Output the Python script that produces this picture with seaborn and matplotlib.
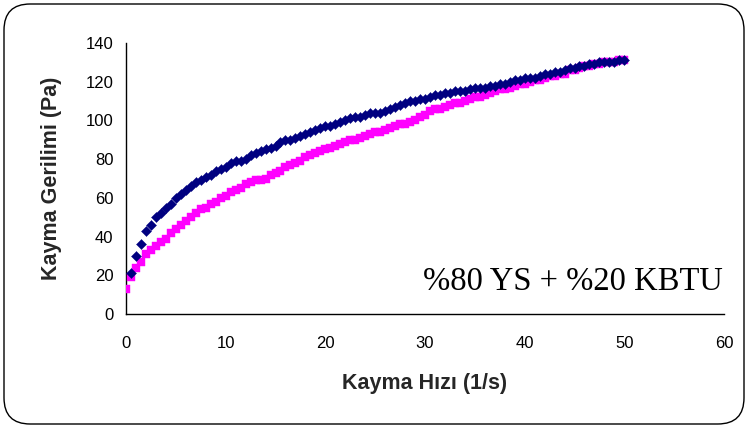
import matplotlib
matplotlib.use("Agg")
import matplotlib.pyplot as plt
import seaborn as sns
import pandas as pd
from matplotlib.patches import FancyBboxPatch

# Shear rate (1/s) and shear stress (Pa)
rate_navy = [0.5, 1.0, 1.5, 2.0, 2.5, 3.0, 3.5, 4.0, 4.5, 5.0,
             5.5, 6.0, 6.5, 7.0, 7.5, 8.0, 8.5, 9.0, 9.5, 10.0,
             10.5, 11.0, 11.5, 12.0, 12.5, 13.0, 13.5, 14.0, 14.5, 15.0,
             15.5, 16.0, 16.5, 17.0, 17.5, 18.0, 18.5, 19.0, 19.5, 20.0,
             20.5, 21.0, 21.5, 22.0, 22.5, 23.0, 23.5, 24.0, 24.5, 25.0,
             25.5, 26.0, 26.5, 27.0, 27.5, 28.0, 28.5, 29.0, 29.5, 30.0,
             30.5, 31.0, 31.5, 32.0, 32.5, 33.0, 33.5, 34.0, 34.5, 35.0,
             35.5, 36.0, 36.5, 37.0, 37.5, 38.0, 38.5, 39.0, 39.5, 40.0,
             40.5, 41.0, 41.5, 42.0, 42.5, 43.0, 43.5, 44.0, 44.5, 45.0,
             45.5, 46.0, 46.5, 47.0, 47.5, 48.0, 48.5, 49.0, 49.5, 50.0]
stress_navy = [21, 30, 36, 43, 46, 50, 52, 55, 57, 60,
               62, 64, 66, 68, 69, 71, 72, 74, 75, 76,
               78, 79, 79, 80, 82, 83, 84, 85, 86, 87,
               89, 90, 90, 91, 92, 93, 94, 95, 96, 97,
               97, 98, 99, 100, 101, 102, 102, 103, 104, 104,
               104, 105, 106, 107, 108, 109, 110, 110, 111, 111,
               112, 113, 113, 114, 114, 115, 115, 115, 116, 117,
               117, 117, 118, 118, 119, 119, 120, 121, 121, 122,
               122, 122, 123, 124, 124, 125, 125, 126, 127, 127,
               128, 128, 129, 129, 130, 130, 130, 130, 131, 131]

rate_mag = [0.0, 0.5, 1.0, 1.5, 2.0, 2.5, 3.0, 3.5, 4.0, 4.5, 5.0,
            5.5, 6.0, 6.5, 7.0, 7.5, 8.0, 8.5, 9.0, 9.5, 10.0,
            10.5, 11.0, 11.5, 12.0, 12.5, 13.0, 13.5, 14.0, 14.5, 15.0,
            15.5, 16.0, 16.5, 17.0, 17.5, 18.0, 18.5, 19.0, 19.5, 20.0,
            20.5, 21.0, 21.5, 22.0, 22.5, 23.0, 23.5, 24.0, 24.5, 25.0,
            25.5, 26.0, 26.5, 27.0, 27.5, 28.0, 28.5, 29.0, 29.5, 30.0,
            30.5, 31.0, 31.5, 32.0, 32.5, 33.0, 33.5, 34.0, 34.5, 35.0,
            35.5, 36.0, 36.5, 37.0, 37.5, 38.0, 38.5, 39.0, 39.5, 40.0,
            40.5, 41.0, 41.5, 42.0, 42.5, 43.0, 43.5, 44.0, 44.5, 45.0,
            45.5, 46.0, 46.5, 47.0, 47.5, 48.0, 48.5, 49.0, 49.5, 50.0]
stress_mag = [13, 19, 24, 27, 31, 33, 35, 37, 39, 42, 44,
              46, 48, 50, 52, 54, 55, 57, 58, 60, 61,
              63, 64, 65, 67, 68, 69, 69, 70, 72, 73,
              74, 76, 77, 78, 79, 81, 82, 83, 84, 85,
              86, 87, 88, 89, 90, 90, 91, 92, 93, 94,
              94, 95, 96, 97, 98, 98, 99, 100, 102, 103,
              105, 106, 106, 107, 108, 109, 109, 110, 111, 112,
              112, 113, 114, 115, 116, 116, 117, 118, 119, 119,
              120, 121, 121, 122, 123, 123, 124, 124, 126, 126,
              127, 128, 128, 129, 129, 130, 130, 130, 131, 131]

x_ticks = [0, 10, 20, 30, 40, 50, 60]
y_ticks = [0, 20, 40, 60, 80, 100, 120, 140]
annotation = "%80 YS + %20 KBTU"

sns.set_style("white")
plt.rcParams['font.family'] = ['Liberation Sans', 'DejaVu Sans']

fig = plt.figure(figsize=(7.48, 4.28), dpi=100)
ax = fig.add_axes([126/748, 1 - 314/428, 598/748, 271/428])

df_n = pd.DataFrame({"x": rate_navy, "y": stress_navy})
df_m = pd.DataFrame({"x": rate_mag, "y": stress_mag})
sns.scatterplot(data=df_m, x="x", y="y", ax=ax, marker="s", s=32,
                color="#FF00FF", edgecolor="#FF00FF", linewidth=0.3, zorder=3)
sns.scatterplot(data=df_n, x="x", y="y", ax=ax, marker="D", s=26,
                color="#000080", edgecolor="#000080", linewidth=0.3, zorder=4)

ax.set_xlim(0, 60)
ax.set_ylim(0, 140)
ax.set_xticks(x_ticks)
ax.set_yticks(y_ticks)
ax.tick_params(axis="both", direction="out", length=5, width=1, color="black",
               labelsize=12, labelcolor="black", pad=4)
ax.tick_params(axis="x", pad=11)
for side in ["top", "right"]:
    ax.spines[side].set_visible(False)
for side in ["left", "bottom"]:
    ax.spines[side].set_color("black")
    ax.spines[side].set_linewidth(1)

ax.set_xlabel("Kayma Hızı (1/s)", fontsize=15.5, fontweight="bold", va="center")
ax.set_ylabel("Kayma Gerilimi (Pa)", fontsize=15.5, fontweight="bold", va="center")
ax.xaxis.set_label_coords(0.5, (314 - 383) / 271)
ax.yaxis.set_label_coords((52 - 126) / 598, 0.5)

ax.text(59.9, 12.4, annotation, ha="right", va="baseline",
        fontsize=23.5, family=["Liberation Serif", "DejaVu Serif"], color="black")

border = FancyBboxPatch((4/748, 4/428), 740/748, 420/428,
                        boxstyle="round,pad=0,rounding_size=0.035",
                        transform=fig.transFigure, fill=False,
                        edgecolor="black", linewidth=1, mutation_aspect=748/428)
fig.patches.append(border)

fig.savefig("out.png", dpi=100)
